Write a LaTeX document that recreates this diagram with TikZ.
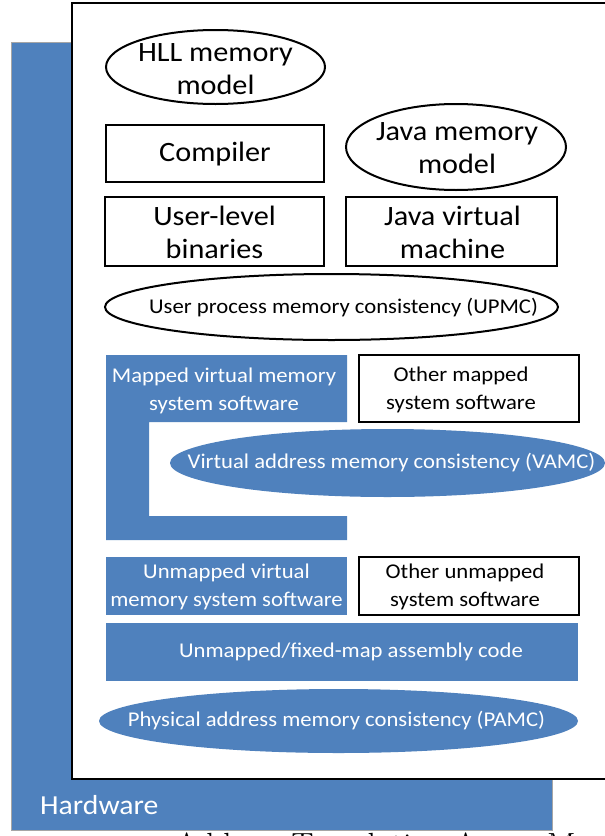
\documentclass[tikz,border=0pt]{standalone}
\usepackage{fontspec}
\setmainfont{Carlito}[FakeStretch=1.08]
\newfontfamily\capfont{Latin Modern Roman}
\usetikzlibrary{shapes.geometric}
\definecolor{officeblue}{HTML}{4F81BD}
\tikzset{
  big/.style={font=\fontsize{28}{33}\selectfont, align=center, inner sep=0pt},
  small/.style={font=\fontsize{21}{28}\selectfont, align=center, inner sep=0pt},
  wbox/.style={draw=black, line width=2pt, fill=white, rectangle, inner sep=0pt},
  woval/.style={draw=black, line width=2pt, fill=white, ellipse, inner sep=0pt},
  bbox/.style={fill=officeblue, rectangle, inner sep=0pt},
  boval/.style={fill=officeblue, ellipse, inner sep=0pt},
  wt/.style={text=white},
}
\begin{document}
\begin{tikzpicture}[x=1pt,y=-1pt]
\useasboundingbox (0,0) rectangle (605,836);
\clip (0,0) rectangle (605,836);
% hardware layer
\node[fill=officeblue, draw=black!35, line width=0.8pt, minimum width=541pt, minimum height=788pt, inner sep=0pt] (hw) at (281.5,436) {};
\node[anchor=west, text=white, font=\fontsize{27.5}{32}\selectfont, inner sep=0pt] (hwlabel) at (40,805) {Hardware};
% white software area
\node[wbox, minimum width=545pt, minimum height=776pt] (sw) at (344.5,391) {};
% top level
\node[woval, minimum width=219pt, minimum height=74pt] (hll) at (215.5,67) {};
\node[big] (hllt) at ([yshift=-2pt]hll.center) {HLL memory\\model};
\node[wbox, minimum width=218pt, minimum height=57pt] (comp) at (215,153.5) {};
\node[big] (compt) at ([yshift=-0.5pt]comp.center) {Compiler};
\node[woval, minimum width=220pt, minimum height=86pt] (jmm) at (456,147) {};
\node[big] (jmmt) at ([xshift=1pt,yshift=-1.5pt]jmm.center) {Java memory\\model};
\node[wbox, minimum width=219pt, minimum height=69pt] (ulb) at (214.5,231.5) {};
\node[big] (ulbt) at ([yshift=-1pt]ulb.center) {User-level\\binaries};
\node[wbox, minimum width=211pt, minimum height=69pt] (jvm) at (451.5,231.5) {};
\node[big] (jvmt) at ([xshift=1pt,yshift=-1pt]jvm.center) {Java virtual\\machine};
\node[woval, minimum width=453pt, minimum height=66pt] (upmc) at (331.5,307) {};
\node[small] (upmct) at ([xshift=12pt,yshift=-1pt]upmc.center) {User process memory consistency (UPMC)};
% mapped layer
\fill[officeblue] (106,355) -- (347,355) -- (347,422) -- (149,422) -- (149,516) -- (347,516) -- (347,540) -- (106,540) -- cycle;
\node[small, wt] (mvm) at (224,390.5) {Mapped virtual memory\\system software};
\node[wbox, minimum width=220pt, minimum height=67pt] (omss) at (469,388.5) {};
\node[small] (omsst) at ([xshift=-8pt,yshift=-1.5pt]omss.center) {Other mapped\\system software};
\node[boval, minimum width=435pt, minimum height=68pt] (vamc) at (387.5,463) {};
\node[small, wt] (vamct) at ([xshift=4pt]vamc.center) {Virtual address memory consistency (VAMC)};
% unmapped layer
\node[bbox, minimum width=241pt, minimum height=58pt] (umvm) at (226.5,586) {};
\node[small, wt] (umvmt) at ([yshift=-1pt]umvm.center) {Unmapped virtual\\memory system software};
\node[wbox, minimum width=220pt, minimum height=58pt] (ouss) at (469,586) {};
\node[small] (ousst) at ([xshift=-4pt,yshift=-1pt]ouss.center) {Other unmapped\\system software};
\node[bbox, minimum width=472pt, minimum height=58pt] (asm) at (342,652) {};
\node[small, wt] (asmt) at ([xshift=9pt]asm.center) {Unmapped/fixed-map assembly code};
\node[boval, minimum width=479pt, minimum height=64pt] (pamc) at (338.5,721) {};
\node[small, wt] (pamct) at ([xshift=-2pt]pamc.center) {Physical address memory consistency (PAMC)};
% cut-off caption
\node[anchor=base west, inner sep=0pt, font=\capfont\fontsize{33.5}{40}\selectfont] (cap) at (175,856) {Address Translation-Aware Memory};
\end{tikzpicture}
\end{document}
